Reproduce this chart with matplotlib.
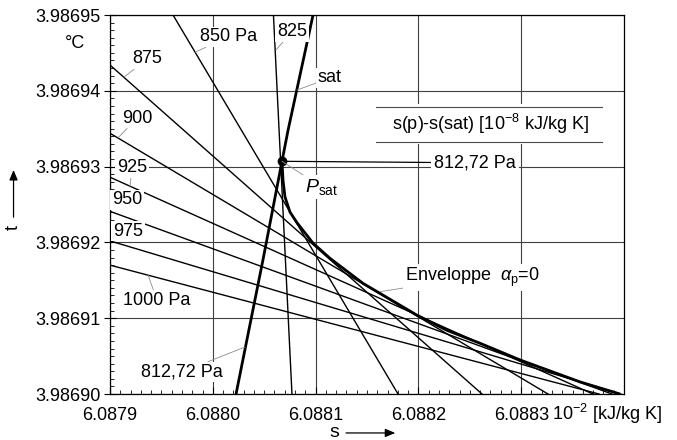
import matplotlib
matplotlib.use("Agg")
import matplotlib.pyplot as plt
from matplotlib.ticker import FixedLocator, MultipleLocator, FormatStrFormatter

plt.rcParams['font.family'] = ['Liberation Sans', 'DejaVu Sans']
plt.rcParams['mathtext.fontset'] = 'custom'
plt.rcParams['mathtext.rm'] = 'Liberation Sans'
plt.rcParams['mathtext.it'] = 'Liberation Sans:italic'

# ---------------------------
# Dados (s em 1e-2 kJ/kg K, t em °C)
# ---------------------------
s_ticks = [6.0879, 6.0880, 6.0881, 6.0882, 6.0883]
t_ticks = [3.98690, 3.98691, 3.98692, 3.98693, 3.98694, 3.98695]
s_lim = (6.0879, 6.0884)
t_lim = (3.98690, 3.98695)

# isobaras (retas): pressão, início (s, t), fim (s, t)
p_labels = ['825', '850 Pa', '875', '900', '925', '950', '975', '1000 Pa']
iso_s0 = [6.0880590, 6.0879613, 6.0879, 6.0879, 6.0879, 6.0879, 6.0879, 6.0879]
iso_t0 = [3.98695, 3.98695, 3.9869434, 3.9869344, 3.9869286, 3.9869241, 3.9869202, 3.9869170]
iso_s1 = [6.0880770, 6.0881802, 6.0882619, 6.0883261, 6.0883698, 6.0883883, 6.0883970, 6.0883757]
iso_t1 = [3.98690, 3.98690, 3.98690, 3.98690, 3.98690, 3.98690, 3.98690, 3.98690]

# envoltória alpha_p = 0
env_s = [6.0880673, 6.0880683, 6.0880702, 6.0880751, 6.0880819, 6.0880975, 6.0881140,
         6.0881461, 6.0881986, 6.0882278, 6.0882599, 6.0882988, 6.0883572, 6.0883961]
env_t = [3.9869307, 3.9869282, 3.9869260, 3.9869240, 3.9869226, 3.9869199, 3.9869179,
         3.9869146, 3.9869104, 3.9869084, 3.9869067, 3.9869045, 3.9869016, 3.9869000]

# linha de saturação
sat_s = [6.0880226, 6.0880488, 6.0880673, 6.0880732, 6.0880975]
sat_t = [3.98690, 3.9869177, 3.9869307, 3.9869348, 3.98695]

# ponto P_sat (812,72 Pa)
psat_s = 6.0880673
psat_t = 3.9869307

# ---------------------------
# Figura
# ---------------------------
fig = plt.figure(figsize=(6.77, 4.40), dpi=100)
ax = fig.add_axes([0.1625, 0.1045, 0.7592, 0.8614])

for s0, t0, s1, t1 in zip(iso_s0, iso_t0, iso_s1, iso_t1):
    ax.plot([s0, s1], [t0, t1], color='black', lw=1.0, zorder=3)

ax.plot(env_s, env_t, color='black', lw=2.0, zorder=3, solid_capstyle='butt')
ax.plot(sat_s, sat_t, color='black', lw=2.0, zorder=3, solid_capstyle='butt')
ax.plot([psat_s], [psat_t], 'o', color='black', ms=6, zorder=4)

ax.set_xlim(*s_lim)
ax.set_ylim(*t_lim)
ax.xaxis.set_major_locator(FixedLocator(s_ticks))
ax.yaxis.set_major_locator(FixedLocator(t_ticks))
ax.xaxis.set_minor_locator(MultipleLocator(1e-5))
ax.yaxis.set_minor_locator(MultipleLocator(1e-6))
ax.xaxis.set_major_formatter(FormatStrFormatter('%.4f'))
ax.yaxis.set_major_formatter(FormatStrFormatter('%.5f'))
ax.tick_params(axis='both', which='major', labelsize=13, width=0.8, color='black')
ax.tick_params(axis='y', which='major', direction='inout', length=8, pad=3)
ax.tick_params(axis='x', which='major', direction='in', length=5, pad=9)
ax.tick_params(axis='both', which='minor', direction='in', length=3, width=0.6)
ax.grid(True, which='major', color='0.25', lw=0.8, zorder=0)
for sp in ax.spines.values():
    sp.set_linewidth(0.9)

box = dict(boxstyle='square,pad=0.1', fc='white', ec='none')
lead = dict(arrowstyle='-', color='0.55', lw=0.6, shrinkA=0, shrinkB=0)

# rótulos das isobaras
labels = [
    ('850 Pa', (6.0880158, 3.9869471), (6.0879827, 3.9869451)),
    ('825', (6.0880770, 3.9869478), (6.0880615, 3.9869454)),
    ('875', (6.0879360, 3.9869442), (6.0879136, 3.9869418)),
    ('sat', (6.0881140, 3.9869417), (6.0880819, 3.9869401)),
    ('900', (6.0879263, 3.9869364), (6.0879078, 3.9869338)),
    ('925', (6.0879214, 3.9869299), (6.0879195, 3.9869274)),
    ('950', (6.0879165, 3.9869256), None),
    ('975', (6.0879175, 3.9869215), None),
    ('1000 Pa', (6.0879457, 3.9869124), (6.0879370, 3.9869157)),
    ('812,72 Pa', (6.0879700, 3.9869029), (6.0880313, 3.9869062)),
]
for txt, pos, tip in labels:
    if tip is None:
        ax.text(*pos, txt, fontsize=13, ha='center', va='center', bbox=box, zorder=5)
    else:
        ax.annotate(txt, xy=tip, xytext=pos, fontsize=13, ha='center', va='center',
                    bbox=box, zorder=5, arrowprops=lead)

ax.annotate(r'$P_{\rm sat}$', xy=(psat_s, psat_t), xytext=(6.0881062, 3.9869273),
            fontsize=14, ha='center', va='center', bbox=box, zorder=5, arrowprops=lead)
ax.annotate('812,72 Pa', xy=(psat_s, psat_t), xytext=(6.0882551, 3.9869305),
            fontsize=13, ha='center', va='center',
            bbox=dict(boxstyle='square,pad=0.15', fc='white', ec='none'), zorder=5,
            arrowprops=dict(arrowstyle='-', color='black', lw=0.9, shrinkA=0, shrinkB=3))
ax.annotate(r'Enveloppe  $\alpha_{\rm p}$=0', xy=(6.0881626, 3.9869135),
            xytext=(6.0881870, 3.9869154), fontsize=13, ha='left', va='center',
            bbox=box, zorder=5, arrowprops=lead)

# caixa da legenda s(p)-s(sat)
ax.text(6.0882696, 3.9869356, r's(p)-s(sat) [10$^{-8}$ kJ/kg K]', fontsize=13,
        ha='center', va='center', zorder=5,
        bbox=dict(boxstyle='square,pad=0.45', fc='white', ec='none'))
ax.axhline(3.9869379, xmin=0.5175, xmax=0.957, color='0.3', lw=0.8, zorder=6)
ax.axhline(3.9869332, xmin=0.5175, xmax=0.957, color='0.3', lw=0.8, zorder=6)

# unidades e eixos
ax.text(0.86, -0.022, r'10$^{-2}$ [kJ/kg K]', transform=ax.transAxes, fontsize=13,
        ha='left', va='top')
fig.text(0.111, 0.902, '°C', fontsize=13, ha='center', va='center')
fig.text(0.020, 0.482, 't', fontsize=13, rotation=90, ha='center', va='center')
fig.text(0.494, 0.018, 's', fontsize=14, ha='center', va='center')
fig.add_artist(plt.matplotlib.patches.FancyArrowPatch(
    (0.020, 0.50), (0.020, 0.62), transform=fig.transFigure,
    arrowstyle='-|>,head_length=6,head_width=2.5', color='black', lw=0.9))
fig.add_artist(plt.matplotlib.patches.FancyArrowPatch(
    (0.507, 0.016), (0.588, 0.016), transform=fig.transFigure,
    arrowstyle='-|>,head_length=6,head_width=2.5', color='black', lw=0.9))

fig.savefig('out.png', dpi=100)
